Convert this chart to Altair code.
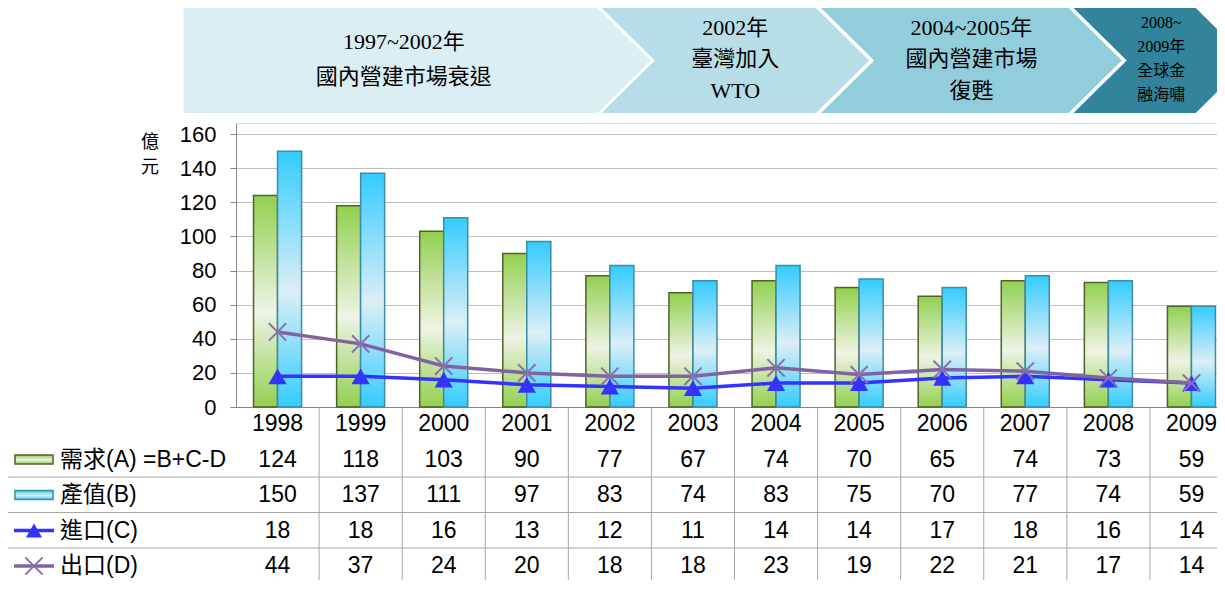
import altair as alt
import pandas as pd

# ---------------- data ----------------
years = [str(y) for y in range(1998, 2010)]
demand_A = [124, 118, 103, 90, 77, 67, 74, 70, 65, 74, 73, 59]
output_B = [150, 137, 111, 97, 83, 74, 83, 75, 70, 77, 74, 59]
import_C = [18, 18, 16, 13, 12, 11, 14, 14, 17, 18, 16, 14]
export_D = [44, 37, 24, 20, 18, 18, 23, 19, 22, 21, 17, 14]

row_keys = ["year", "A", "B", "C", "D"]
row_names = ["", "需求(A) =B+C-D", "產值(B)", "進口(C)", "出口(D)"]

# period banners (in year units on the category axis)
banner_start = [1996.868, 2001.900, 2004.542, 2007.581]
banner_end = [2001.852, 2004.481, 2007.521, 2009.052]
banner_notch = [False, True, True, True]
banner_lines = [
    ["1997~2002年", "國內營建市場衰退"],
    ["2002年", "臺灣加入", "WTO"],
    ["2004~2005年", "國內營建市場", "復甦"],
    ["2008~", "2009年", "全球金", "融海嘯"],
]
banner_line_gap = [35, 31.5, 31.5, 24]
banner_font = [22, 22, 22, 16]
banner_colors = ["#DAEEF3", "#B7DEE8", "#92CDDC", "#31849B"]
arrow_depth = 0.64

# ---------------- styles ----------------
SANS = "Liberation Sans, Noto Sans CJK TC"
SERIF = "Liberation Serif, Noto Sans CJK TC"
GREEN, GREEN_EDGE = "#92D050", "#4F6228"
BLUE, BLUE_EDGE = "#33CCFF", "#3C8DA3"
C_COL, D_COL = "#3333FF", "#8064A2"
GRID = "#BFBFBF"
AXIS = "#868686"
XRANGE = [0, 997]   # category axis runs a little past the right edge, as in the source

grad_green = alt.LinearGradient(
    gradient="linear", x1=0, y1=0, x2=0, y2=1,
    stops=[alt.GradientStop(offset=0, color=GREEN),
           alt.GradientStop(offset=0.55, color="#EEF3E4"),
           alt.GradientStop(offset=1, color=GREEN)])
grad_blue = alt.LinearGradient(
    gradient="linear", x1=0, y1=0, x2=0, y2=1,
    stops=[alt.GradientStop(offset=0, color=BLUE),
           alt.GradientStop(offset=0.55, color="#DCEEF6"),
           alt.GradientStop(offset=1, color=BLUE)])

# ---------------- tables ----------------
bars_df = pd.DataFrame({"year": years * 2,
                        "s": ["A"] * 12 + ["B"] * 12,
                        "v": demand_A + output_B})
lines_df = pd.DataFrame({"year": years * 2,
                         "s": ["C"] * 12 + ["D"] * 12,
                         "v": import_C + export_D})
tab_rows = []
for i, y in enumerate(years):
    tab_rows.append({"year": y, "row": "year", "t": y})
    for k, arr in zip(["A", "B", "C", "D"], [demand_A, output_B, import_C, export_D]):
        tab_rows.append({"year": y, "row": k, "t": str(arr[i])})
table_df = pd.DataFrame(tab_rows)
legend_df = pd.DataFrame({"row": row_keys[1:], "name": row_names[1:]})

poly = []
for i in range(4):
    d = arrow_depth
    notch = d if banner_notch[i] else 0
    poly.append({"b": i, "pos": 0, "xl": banner_start[i], "xr": banner_end[i]})
    poly.append({"b": i, "pos": 1, "xl": banner_start[i] + notch, "xr": banner_end[i] + d})
    poly.append({"b": i, "pos": 2, "xl": banner_start[i], "xr": banner_end[i]})
poly_df = pd.DataFrame(poly)

BAN_UNIT = 52.5  # px per banner y-unit
btext = []
for i in range(4):
    cx = (banner_start[i] + banner_end[i]) / 2 + (arrow_depth / 2 if banner_notch[i] else arrow_depth / 4)
    n = len(banner_lines[i])
    for j, line in enumerate(banner_lines[i]):
        off = (j - (n - 1) / 2) * banner_line_gap[i]
        btext.append({"b": i, "cx": cx, "cy": 0.98 + off / BAN_UNIT, "t": line, "fs": banner_font[i]})
btext_df = pd.DataFrame(btext)

# ---------------- scales ----------------
x_band = alt.Scale(domain=years, range=XRANGE, paddingInner=0.422, paddingOuter=0.211)
x_step = alt.Scale(domain=years, range=XRANGE, paddingInner=0, paddingOuter=0)
y_val = alt.Scale(domain=[0, 166.5], nice=False, zero=True)
y_row = alt.Scale(type="point", domain=row_keys, range=[301, 443], padding=0)
x_ban = alt.Scale(domain=[1997.5, 2009.5], range=XRANGE, nice=False, zero=False)
y_ban = alt.Scale(domain=[0, 2], range=[-115, -10], nice=False, zero=False)

# ---------------- banners ----------------
banner_area = alt.Chart(poly_df).mark_area(orient="horizontal", opacity=1).encode(
    y=alt.Y("pos:Q", scale=y_ban, axis=None),
    x=alt.X("xl:Q", scale=x_ban, axis=None, stack=False),
    x2="xr:Q",
    color=alt.Color("b:N", scale=alt.Scale(domain=[0, 1, 2, 3], range=banner_colors), legend=None),
)
banner_text = alt.Chart(btext_df).mark_text(
    font=SERIF, color="#000", align="center", baseline="middle").encode(
    x=alt.X("cx:Q", scale=x_ban, axis=None),
    y=alt.Y("cy:Q", scale=y_ban, axis=None),
    size=alt.Size("fs:Q", scale=None, legend=None),
    text="t:N")

unit_label = alt.Chart(pd.DataFrame({"a": [0]})).mark_text(
    text=["億", "元"], fontSize=18, lineHeight=25, font=SERIF, color="#000",
    align="center", baseline="middle").encode(x=alt.value(-86), y=alt.value(20))

# ---------------- bars ----------------
y_axis = alt.Axis(values=list(range(0, 161, 20)), labelFontSize=22, labelFont="Liberation Sans",
                  labelColor="#000", labelPadding=14, tickSize=6, tickColor=AXIS,
                  domainColor=AXIS, gridColor=GRID, grid=True, title=None)
x_axis = alt.Axis(labels=False, ticks=False, domain=True, domainColor=AXIS, grid=False, title=None)

bars_A = alt.Chart(bars_df).transform_filter("datum.s == 'A'").mark_bar(
    fill=grad_green, stroke=GREEN_EDGE, strokeWidth=1.5).encode(
    x=alt.X("year:N", scale=x_band, axis=x_axis),
    xOffset=alt.XOffset("s:N", scale=alt.Scale(domain=["A", "B"])),
    y=alt.Y("v:Q", scale=y_val, axis=y_axis))
bars_B = alt.Chart(bars_df).transform_filter("datum.s == 'B'").mark_bar(
    fill=grad_blue, stroke=BLUE_EDGE, strokeWidth=1.5).encode(
    x=alt.X("year:N", scale=x_band, axis=None),
    xOffset=alt.XOffset("s:N", scale=alt.Scale(domain=["A", "B"])),
    y=alt.Y("v:Q", scale=y_val, axis=None))

# ---------------- lines ----------------
def series_line(key, color):
    return alt.Chart(lines_df).transform_filter(f"datum.s == '{key}'").mark_line(
        color=color, strokeWidth=3.5).encode(
        x=alt.X("year:N", scale=x_band, axis=None),
        y=alt.Y("v:Q", scale=y_val, axis=None))

line_C = series_line("C", C_COL)
pts_C = alt.Chart(lines_df).transform_filter("datum.s == 'C'").mark_point(
    shape="triangle-up", filled=True, size=330, color=C_COL, opacity=1).encode(
    x=alt.X("year:N", scale=x_band, axis=None),
    y=alt.Y("v:Q", scale=y_val, axis=None))
line_D = series_line("D", D_COL)
XSHAPE = "M-1,-1L1,1M-1,1L1,-1"
pts_D = alt.Chart(lines_df).transform_filter("datum.s == 'D'").mark_point(
    shape=XSHAPE, filled=False, size=300, color="#8B70B0", strokeWidth=2, opacity=1).encode(
    x=alt.X("year:N", scale=x_band, axis=None),
    y=alt.Y("v:Q", scale=y_val, axis=None))

# ---------------- data table ----------------
v_rules = alt.Chart(pd.DataFrame({"year": years[1:]})).mark_rule(
    color="#A6A6A6", strokeWidth=1).encode(
    x=alt.X("year:N", scale=x_step, bandPosition=0, axis=None),
    y=alt.value(284), y2=alt.value(470))
h_rules = alt.Chart(legend_df).transform_filter("datum.row != 'A'").mark_rule(
    color="#A6A6A6", strokeWidth=1, yOffset=-18).encode(
    y=alt.Y("row:N", scale=y_row, axis=None),
    x=alt.value(-236), x2=alt.value(1000))
table_text = alt.Chart(table_df).mark_text(
    fontSize=23, font="Liberation Sans", color="#000", align="center", baseline="middle").encode(
    x=alt.X("year:N", scale=x_band, axis=None),
    y=alt.Y("row:N", scale=y_row, axis=None),
    text="t:N")
legend_text = alt.Chart(legend_df).mark_text(
    fontSize=23, font=SANS, color="#000", align="left", baseline="middle").encode(
    x=alt.value(-176),
    y=alt.Y("row:N", scale=y_row, axis=None),
    text="name:N")

RECT = "M-1,-0.24H1V0.24H-1Z"
LSEG = "M-1,0H1"
def leg(key, **mk):
    return alt.Chart(legend_df).transform_filter(f"datum.row == '{key}'").mark_point(
        opacity=1, **mk).encode(x=alt.value(-202), y=alt.Y("row:N", scale=y_row, axis=None))

leg_A = leg("A", shape=RECT, size=1444, filled=True, fill=grad_green, stroke=GREEN_EDGE, strokeWidth=1.5)
leg_B = leg("B", shape=RECT, size=1444, filled=True, fill=grad_blue, stroke=BLUE_EDGE, strokeWidth=1.5)
leg_C1 = leg("C", shape=LSEG, size=1600, filled=False, color=C_COL, strokeWidth=3.5)
leg_C2 = leg("C", shape="triangle-up", size=260, filled=True, color=C_COL)
leg_D1 = leg("D", shape=LSEG, size=1600, filled=False, color=D_COL, strokeWidth=3.5)
leg_D2 = leg("D", shape=XSHAPE, size=300, filled=False, color="#8B70B0", strokeWidth=2)

chart = alt.layer(
    banner_area, banner_text, unit_label,
    bars_A, bars_B, line_C, pts_C, line_D, pts_D,
    v_rules, h_rules, table_text, legend_text,
    leg_A, leg_B, leg_C1, leg_C2, leg_D1, leg_D2,
).resolve_scale(
    x="independent", y="independent", color="independent", size="independent"
).properties(
    width=981, height=284,
    autosize=alt.AutoSizeParams(type="none"),
    padding={"left": 228, "top": 115, "right": 0, "bottom": 173},
    background="white",
).configure_view(strokeWidth=0).configure(font="Liberation Sans")

chart.save("out.html", embed_options={"renderer": "svg", "actions": False})
